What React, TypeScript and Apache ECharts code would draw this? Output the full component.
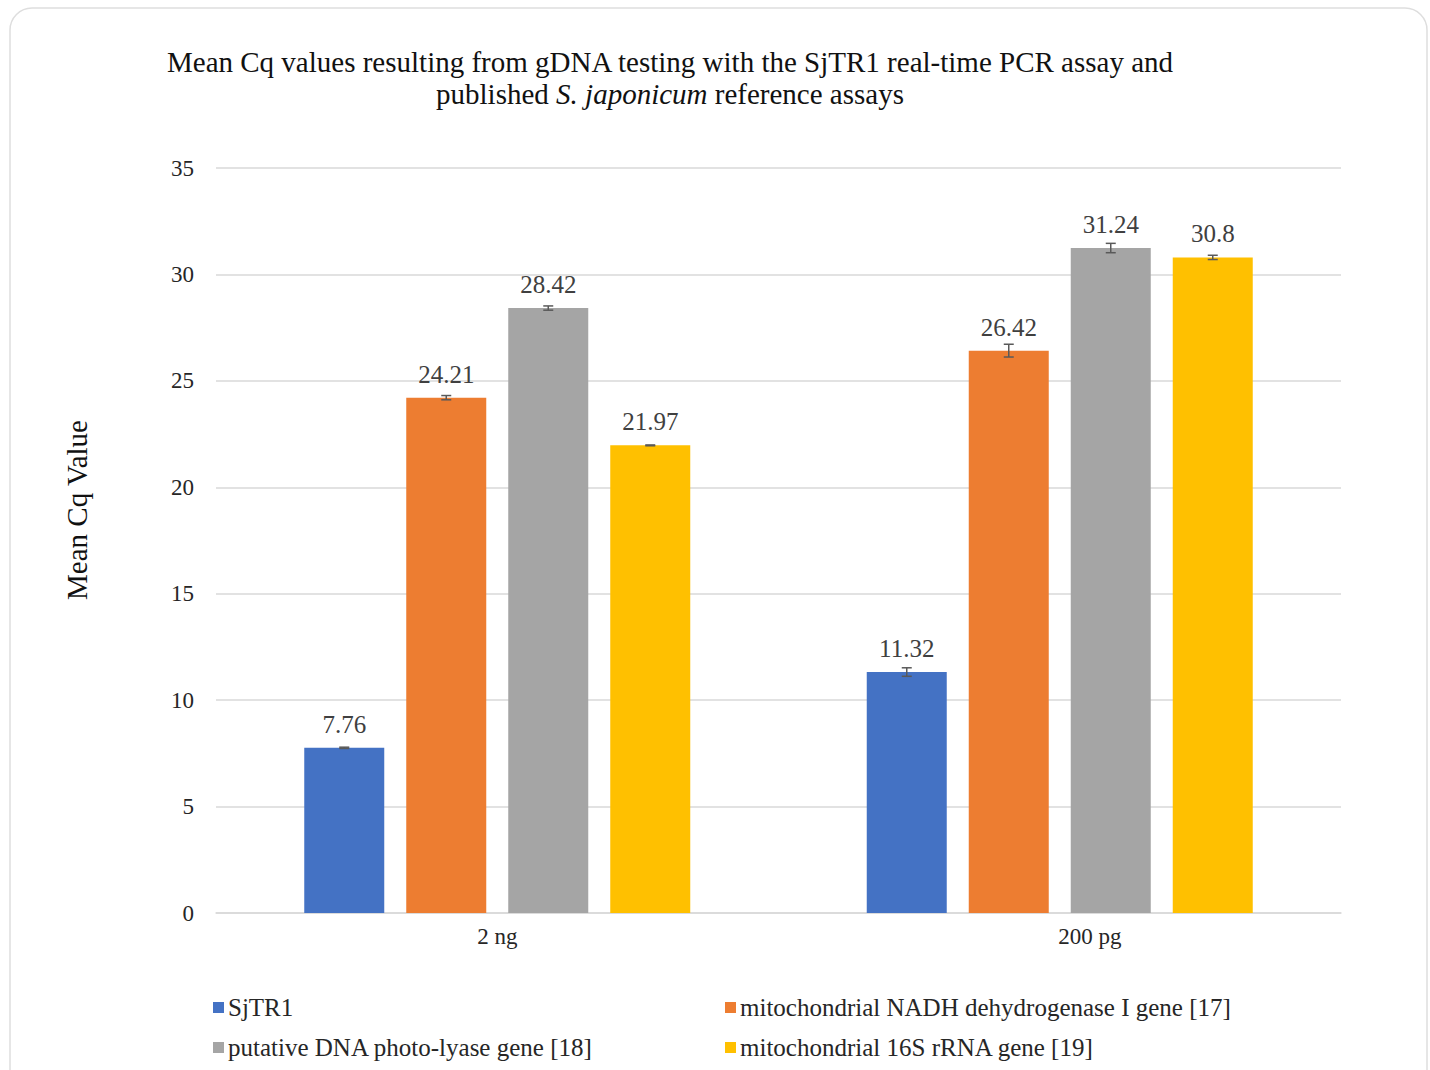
import React, { useEffect, useRef } from "react";
import * as echarts from "echarts";

const categories = ["2 ng", "200 pg"];
const seriesNames = [
  "SjTR1",
  "mitochondrial NADH dehydrogenase I gene [17]",
  "putative DNA photo-lyase gene [18]",
  "mitochondrial 16S rRNA gene [19]",
];
const sjtr1 = [7.76, 11.32];
const nadh = [24.21, 26.42];
const photolyase = [28.42, 31.24];
const rrna16s = [21.97, 30.8];
const sjtr1Err = [0.03, 0.2];
const nadhErr = [0.1, 0.3];
const photolyaseErr = [0.1, 0.22];
const rrna16sErr = [0.02, 0.1];
const yTicks = [0, 5, 10, 15, 20, 25, 30, 35];

const colors = ["#4472C4", "#ED7D31", "#A5A5A5", "#FFC000"];
const SERIF = "'Liberation Serif', 'Times New Roman', serif";
const BAR_W = 80;
const BAR_GAP_PX = 22;

export default function App() {
  const ref = useRef<HTMLDivElement>(null);
  useEffect(() => {
    document.body.style.margin = "0";
    if (!ref.current) return;
    const chart = echarts.init(ref.current, null, { renderer: "svg" });
    const values = [sjtr1, nadh, photolyase, rrna16s];
    const errs = [sjtr1Err, nadhErr, photolyaseErr, rrna16sErr];

    const barSeries = values.map((vals, i) => ({
      type: "bar",
      name: seriesNames[i],
      data: vals,
      barWidth: BAR_W,
      barGap: (BAR_GAP_PX / BAR_W) * 100 + "%",
      itemStyle: { color: colors[i] },
      label: {
        show: true,
        position: "top",
        distance: 11,
        fontFamily: SERIF,
        fontSize: 25,
        color: "#404040",
      },
      z: 2,
    }));

    const errSeries = values.map((vals, i) => ({
      type: "custom",
      name: seriesNames[i] + " err",
      data: vals.map((v, j) => [j, v, errs[i][j]]),
      z: 5,
      silent: true,
      renderItem: (params: any, api: any) => {
        const idx = api.value(0);
        const v = api.value(1);
        const e = api.value(2);
        const offset = (i - 1.5) * (BAR_W + BAR_GAP_PX);
        const top = api.coord([idx, v + e]);
        const bot = api.coord([idx, v - e]);
        const x = top[0] + offset;
        const cap = 5;
        const style = { stroke: "#595959", lineWidth: 1.5 };
        return {
          type: "group",
          children: [
            { type: "line", shape: { x1: x, y1: top[1], x2: x, y2: bot[1] }, style },
            { type: "line", shape: { x1: x - cap, y1: top[1], x2: x + cap, y2: top[1] }, style },
            { type: "line", shape: { x1: x - cap, y1: bot[1], x2: x + cap, y2: bot[1] }, style },
          ],
        };
      },
    }));

    const legendText = { fontFamily: SERIF, fontSize: 25, color: "#262626", padding: [0, 0, 0, -1] };

    chart.setOption({
      animation: false,
      grid: { left: 216, right: 89, top: 168, bottom: 157, containLabel: false },
      xAxis: {
        type: "category",
        data: categories,
        axisLine: { lineStyle: { color: "#d9d9d9", width: 1.5 } },
        axisTick: { show: false },
        axisLabel: {
          margin: 12,
          fontFamily: SERIF,
          fontSize: 23,
          color: "#262626",
          formatter: (v: string, i: number) => (i === 1 ? "{s|" + v + "}" : v),
          rich: {
            s: { fontFamily: SERIF, fontSize: 23, color: "#262626", padding: [0, 0, 0, 60] },
          },
        },
      },
      yAxis: {
        type: "value",
        min: yTicks[0],
        max: yTicks[yTicks.length - 1],
        interval: 5,
        axisLine: { show: false },
        axisTick: { show: false },
        splitLine: { lineStyle: { color: "#d9d9d9", width: 1.5 } },
        axisLabel: {
          margin: 22,
          fontFamily: SERIF,
          fontSize: 23,
          color: "#262626",
        },
      },
      legend: [
        {
          left: 208,
          top: 990,
          orient: "vertical",
          data: [seriesNames[0], seriesNames[2]],
          itemWidth: 11,
          itemHeight: 11,
          itemGap: 15,
          icon: "rect",
          textStyle: legendText,
        },
        {
          left: 720,
          top: 990,
          orient: "vertical",
          data: [seriesNames[1], seriesNames[3]],
          itemWidth: 11,
          itemHeight: 11,
          itemGap: 15,
          icon: "rect",
          textStyle: legendText,
        },
      ],
      graphic: [
        {
          type: "rect",
          silent: true,
          shape: { x: 10, y: 8, width: 1417, height: 1120, r: 22 },
          style: { fill: "none", stroke: "#dedede", lineWidth: 1.5 },
          z: -10,
        },
        {
          type: "text",
          x: 670,
          y: 46,
          style: {
            text: "Mean Cq values resulting from gDNA testing with the SjTR1 real-time PCR assay and\npublished {i|S. japonicum} reference assays",
            fontFamily: SERIF,
            fontSize: 29,
            lineHeight: 32,
            fill: "#111",
            align: "center",
            verticalAlign: "top",
            rich: {
              i: { fontFamily: SERIF, fontSize: 29, fontStyle: "italic", fill: "#111", lineHeight: 32 },
            },
          },
        },
        {
          type: "text",
          x: 77,
          y: 510,
          rotation: Math.PI / 2,
          style: {
            text: "Mean Cq Value",
            fontFamily: SERIF,
            fontSize: 29,
            fill: "#111",
            align: "center",
            verticalAlign: "middle",
          },
        },
      ],
      series: [...barSeries, ...errSeries],
    });
    return () => chart.dispose();
  }, []);
  return <div ref={ref} style={{ width: 1430, height: 1070 }} />;
}
